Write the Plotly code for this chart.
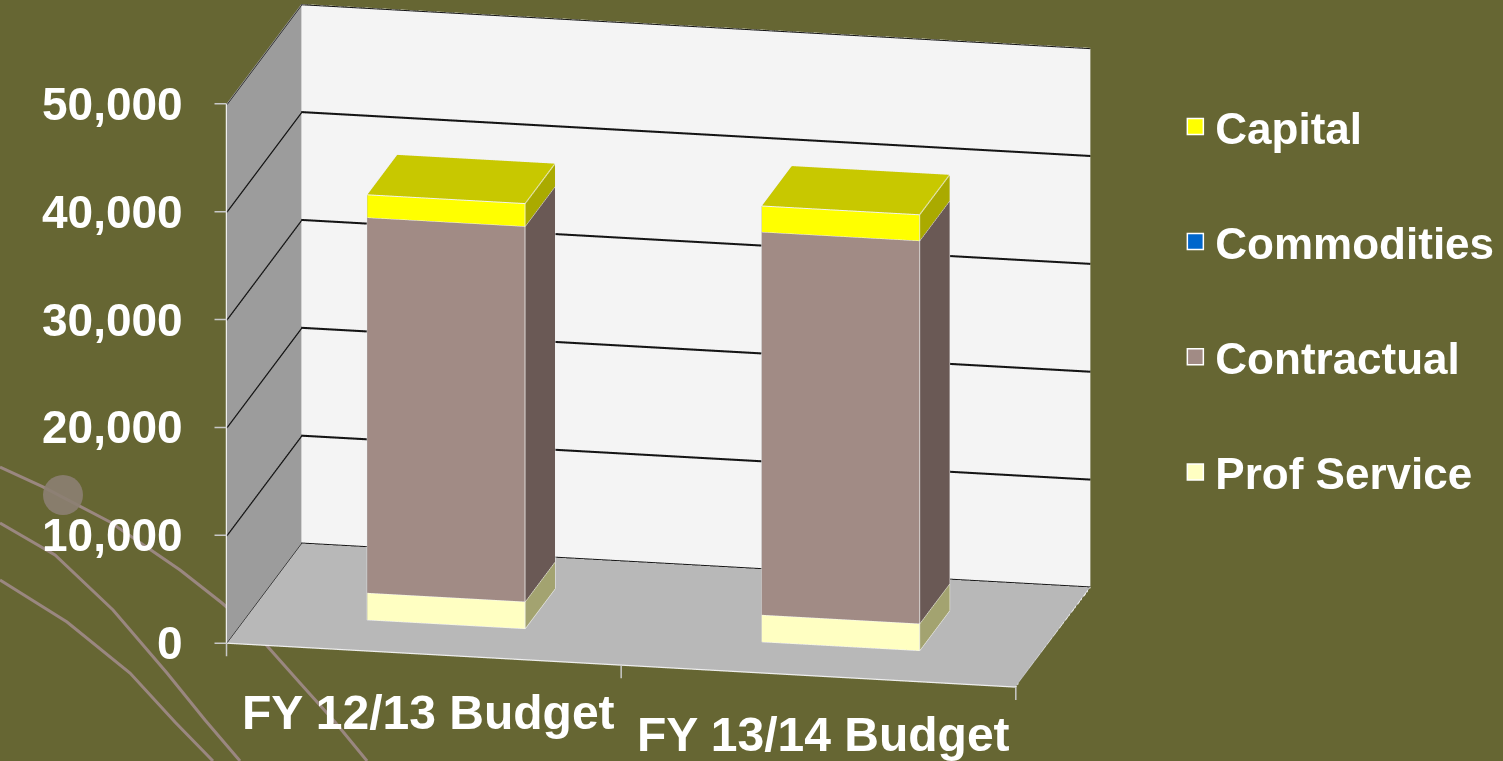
import math
import plotly.graph_objects as go

# ---- data -------------------------------------------------------------
categories = ["FY 12/13 Budget", "FY 13/14 Budget"]
prof_service = [2500, 2500]
contractual = [34800, 35500]
commodities = [0, 0]
capital = [2100, 2400]
z_ticks = [0, 10000, 20000, 30000, 40000, 50000]
z_max = 50000

# stacking order bottom -> top: (name, values, front, side, top)
series = [
    ("Prof Service", prof_service, "#FFFFC2", "#A3A370", "#E2E2A8"),
    ("Contractual", contractual, "#A18B85", "#6A5955", "#8C7771"),
    ("Commodities", commodities, "#0066CC", "#004C99", "#0059B3"),
    ("Capital", capital, "#FFFF00", "#AAAA00", "#C8C800"),
]

BAR_HALF = 0.2          # half bar width in category units
DEPTH = (0.3, 0.7)      # bar depth span inside the floor
X_RANGE = (-0.5, len(categories) - 0.5)
Y_RANGE = (0.0, 1.0)
GRID_HALF = 95          # half thickness of wall gridlines, in value units
BG = "#666633"
W, H = 1503, 761
TEXT_FONT = "Liberation Sans"
FLAT = dict(ambient=1, diffuse=0, specular=0, roughness=1, fresnel=0)


def box_mesh(x0, x1, y0, y1, z0, z1, base):
    xs = [x0, x1, x1, x0, x0, x1, x1, x0]
    ys = [y0, y0, y1, y1, y0, y0, y1, y1]
    zs = [z0, z0, z0, z0, z1, z1, z1, z1]
    tris = [
        (0, 1, 5), (0, 5, 4),   # front
        (1, 2, 6), (1, 6, 5),   # right side
        (4, 5, 6), (4, 6, 7),   # top
        (3, 2, 6), (3, 6, 7),   # back
        (0, 3, 7), (0, 7, 4),   # left
        (0, 1, 2), (0, 2, 3),   # bottom
    ]
    kind = ["front", "front", "side", "side", "top", "top",
            "side", "side", "side", "side", "side", "side"]
    i = [t[0] + base for t in tris]
    j = [t[1] + base for t in tris]
    k = [t[2] + base for t in tris]
    return xs, ys, zs, i, j, k, kind


def box_edges(x0, x1, y0, y1, z0, z1):
    c = [(x0, y0, z0), (x1, y0, z0), (x1, y1, z0), (x0, y1, z0),
         (x0, y0, z1), (x1, y0, z1), (x1, y1, z1), (x0, y1, z1)]
    pairs = [(0, 1), (1, 2), (2, 3), (3, 0), (4, 5), (5, 6), (6, 7), (7, 4),
             (0, 4), (1, 5), (2, 6), (3, 7)]
    ex, ey, ez = [], [], []
    for a, b in pairs:
        ex += [c[a][0], c[b][0], None]
        ey += [c[a][1], c[b][1], None]
        ez += [c[a][2], c[b][2], None]
    return ex, ey, ez


def segments(pairs):
    xs, ys, zs = [], [], []
    for (a, b) in pairs:
        xs += [a[0], b[0], None]
        ys += [a[1], b[1], None]
        zs += [a[2], b[2], None]
    return xs, ys, zs


fig = go.Figure()

# wall gridlines drawn as thin flat strips on the back and left walls
eps = 0.002
GX, GY, GZ, GI, GJ, GK = [], [], [], [], [], []
for t in z_ticks:
    lo, hi = max(0, t - GRID_HALF), min(z_max, t + GRID_HALF)
    quads = [
        [(X_RANGE[0], Y_RANGE[1] - eps, lo), (X_RANGE[1], Y_RANGE[1] - eps, lo),
         (X_RANGE[1], Y_RANGE[1] - eps, hi), (X_RANGE[0], Y_RANGE[1] - eps, hi)],
        [(X_RANGE[0] + eps, Y_RANGE[0], lo), (X_RANGE[0] + eps, Y_RANGE[1], lo),
         (X_RANGE[0] + eps, Y_RANGE[1], hi), (X_RANGE[0] + eps, Y_RANGE[0], hi)],
    ]
    for q in quads:
        b = len(GX)
        for p in q:
            GX.append(p[0]); GY.append(p[1]); GZ.append(p[2])
        GI += [b, b]; GJ += [b + 1, b + 2]; GK += [b + 2, b + 3]
fig.add_trace(go.Mesh3d(x=GX, y=GY, z=GZ, i=GI, j=GJ, k=GK, color="#141414",
                        flatshading=True, lighting=FLAT, hoverinfo="skip",
                        showlegend=False))

# light outline along the front of the floor and the value axis
rim_pairs = [
    ((X_RANGE[0], Y_RANGE[0], 0), (X_RANGE[1], Y_RANGE[0], 0)),
    ((X_RANGE[1], Y_RANGE[0], 0), (X_RANGE[1], Y_RANGE[1], 0)),
    ((X_RANGE[0], Y_RANGE[0], 0), (X_RANGE[0], Y_RANGE[0], z_max)),
]
rx, ry, rz = segments(rim_pairs)
fig.add_trace(go.Scatter3d(x=rx, y=ry, z=rz, mode="lines",
                           line=dict(color="#EEEEEE", width=2.5),
                           hoverinfo="skip", showlegend=False))

cum = [0.0] * len(categories)
ex_all, ey_all, ez_all = [], [], []
for name, vals, c_front, c_side, c_top in series:
    X, Y, Z, I, J, K, FC = [], [], [], [], [], [], []
    for ci, v in enumerate(vals):
        z0, z1 = cum[ci], cum[ci] + v
        cum[ci] = z1
        if v <= 0:
            continue
        xs, ys, zs, i, j, k, kind = box_mesh(ci - BAR_HALF, ci + BAR_HALF,
                                            DEPTH[0], DEPTH[1], z0, z1, len(X))
        X += xs; Y += ys; Z += zs; I += i; J += j; K += k
        FC += [{"front": c_front, "side": c_side, "top": c_top}[t] for t in kind]
        ex, ey, ez = box_edges(ci - BAR_HALF, ci + BAR_HALF, DEPTH[0], DEPTH[1], z0, z1)
        ex_all += ex; ey_all += ey; ez_all += ez
    if X:
        fig.add_trace(go.Mesh3d(
            x=X, y=Y, z=Z, i=I, j=J, k=K, facecolor=FC, flatshading=True,
            lighting=FLAT, hoverinfo="skip", showlegend=False, name=name))

fig.add_trace(go.Scatter3d(x=ex_all, y=ey_all, z=ez_all, mode="lines",
                           line=dict(color="#F2F2F2", width=2),
                           hoverinfo="skip", showlegend=False))

# legend entries, top of the stack listed first
for name, vals, c_front, c_side, c_top in reversed(series):
    fig.add_trace(go.Scatter3d(
        x=[None], y=[None], z=[None], mode="markers", name=name,
        legendgroup=name,
        marker=dict(symbol="square", size=20, color=c_front,
                    line=dict(color="white", width=1.5))))

# ---- axis labels as scene annotations (anchored to 3D positions) -------
label_font = dict(family=TEXT_FONT, size=46, color="white", weight="bold")
annotations = []
for t in z_ticks:
    annotations.append(dict(x=X_RANGE[0], y=Y_RANGE[0], z=t, text=f"{t:,}",
                            showarrow=False, xanchor="right", xshift=-42,
                            font=label_font))
    annotations.append(dict(x=X_RANGE[0], y=Y_RANGE[0], z=t, text=" ", showarrow=True,
                            arrowhead=0, arrowwidth=1.5, arrowcolor="#C8C8C8",
                            ax=-14, ay=0, font=dict(size=2)))
for ci, cat in enumerate(categories):
    annotations.append(dict(x=ci, y=Y_RANGE[0], z=0, text=cat, showarrow=False,
                            yshift=-58, xshift=5,
                            font=dict(family=TEXT_FONT, size=48, color="white",
                                      weight="bold")))
for xb in [X_RANGE[0] + n for n in range(len(categories) + 1)]:
    annotations.append(dict(x=xb, y=Y_RANGE[0], z=0, text=" ", showarrow=True,
                            arrowhead=0, arrowwidth=1.5, arrowcolor="#C8C8C8",
                            ax=0, ay=16, font=dict(size=2)))


# decorative swirl lines in the lower-left corner (pixel coordinates)
def px_path(points):
    parts = []
    for n, (px, py) in enumerate(points):
        parts.append(("M" if n == 0 else "L") + f"{px / W:.4f},{1 - py / H:.4f}")
    return " ".join(parts)


swirls = [
    [(0, 467), (43, 487), (110, 522), (180, 570), (222, 603), (253, 630),
     (300, 683), (335, 722), (367, 761)],
    [(0, 523), (55, 555), (113, 610), (167, 673), (205, 720), (240, 761)],
    [(0, 580), (67, 622), (130, 673), (175, 722), (213, 761)],
]
shapes = []
for pts in swirls:
    shapes.append(dict(type="path", xref="paper", yref="paper", layer="below",
                       path=px_path(pts), line=dict(color="#9A8780", width=3)))
shapes.append(dict(type="circle", xref="paper", yref="paper", layer="below",
                   x0=(63 - 20) / W, x1=(63 + 20) / W,
                   y0=1 - (495 + 20) / H, y1=1 - (495 - 20) / H,
                   fillcolor="#8C7F72", line=dict(width=0), opacity=0.9))

# ---- camera: orthographic view from front-right, slightly above ---------
theta = math.radians(11.55)   # rotation about the vertical axis
phi = math.radians(15.81)     # elevation
scale = 1.0583                # scene units per category
eye_dir = (math.sin(theta) * math.cos(phi), -math.cos(theta) * math.cos(phi), math.sin(phi))
center = (-0.1815, -0.0626, -0.0884)
dist = 2.0
eye = tuple(c + dist * e for c, e in zip(center, eye_dir))

fig.update_layout(
    width=W, height=H,
    margin=dict(l=0, r=0, t=0, b=0),
    paper_bgcolor=BG,
    shapes=shapes,
    showlegend=True,
    legend=dict(x=0.782, y=0.88, xanchor="left", yanchor="top",
                traceorder="grouped", tracegroupgap=55,
                font=dict(family=TEXT_FONT, size=44, color="white", weight="bold"),
                bgcolor="rgba(0,0,0,0)", itemsizing="trace"),
    scene=dict(
        domain=dict(x=[0, 0.78], y=[0, 1]),
        bgcolor="rgba(0,0,0,0)",
        aspectmode="manual",
        aspectratio=dict(x=2 * scale, y=0.929 * scale, z=1.392 * scale),
        camera=dict(eye=dict(x=eye[0], y=eye[1], z=eye[2]),
                    center=dict(x=center[0], y=center[1], z=center[2]),
                    up=dict(x=0, y=0, z=1),
                    projection=dict(type="orthographic")),
        annotations=annotations,
        xaxis=dict(range=list(X_RANGE), showticklabels=False, showgrid=False,
                   zeroline=False, showspikes=False,
                   showbackground=True, backgroundcolor="#9C9C9C",
                   showline=False, ticks="", title=dict(text="")),
        yaxis=dict(range=list(Y_RANGE), showticklabels=False, showgrid=False,
                   zeroline=False, showspikes=False,
                   showbackground=True, backgroundcolor="#F4F4F4",
                   showline=False, ticks="", title=dict(text="")),
        zaxis=dict(range=[0, z_max + 0.5], showticklabels=False, showgrid=False,
                   zeroline=False, showspikes=False,
                   showbackground=True, backgroundcolor="#B8B8B8",
                   showline=False, ticks="", title=dict(text="")),
    ),
)

fig.write_html("out.html")
